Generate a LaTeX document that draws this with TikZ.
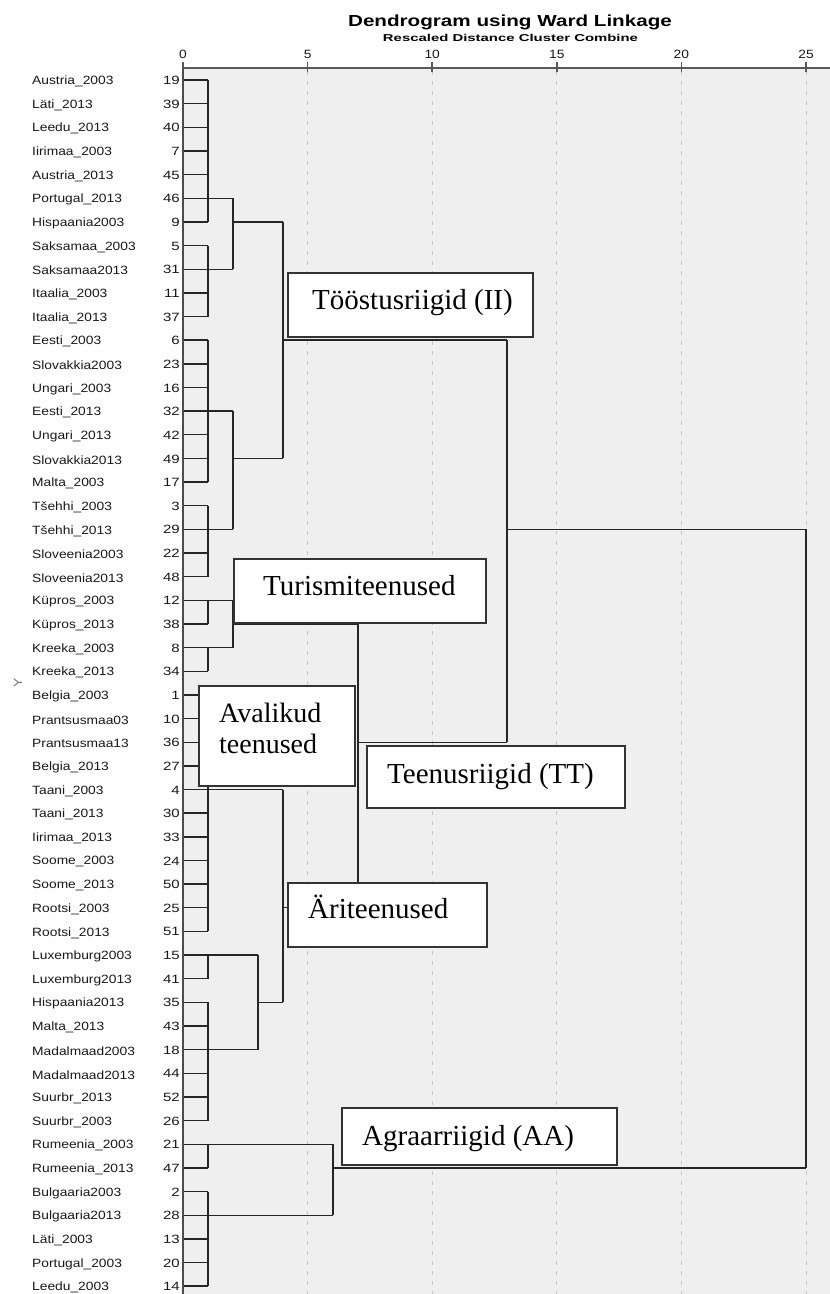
\documentclass[tikz,border=0pt]{standalone}
\usepackage{fontspec}
\setmainfont{Liberation Serif}
\newfontfamily\labfont{Liberation Sans}[FakeStretch=1.15]
\newfontfamily\numfont{Liberation Sans}[FakeStretch=1.25]
\newfontfamily\ttlfont{Liberation Sans}[FakeStretch=1.29]
\newfontfamily\subfont{Liberation Sans}[FakeStretch=1.49]
\definecolor{bggray}{HTML}{EFEFEF}
\definecolor{gridgray}{HTML}{C8C8C8}
\newcommand\clus[5]{\draw[den] (#1,{80+23.65*#2}) -- (#1,{80+23.65*#3}); \draw[den] (#1,{80+23.65*#4}) -- (#5,{80+23.65*#4});}
\begin{document}
\begin{tikzpicture}[x=1pt,y=-1pt,
  den/.style={line width=1.4pt, draw=black!85},
  gridline/.style={draw=gridgray, line width=1pt, dash pattern=on 4pt off 6pt},
  axisline/.style={draw=black!65, line width=2pt},
  box/.style={draw=black!80, line width=1.5pt, fill=white, inner sep=0pt, anchor=north west},
  boxtext/.style={font=\fontsize{29}{33}\selectfont, anchor=base west, inner sep=0pt, text=black},
  lab/.style={font=\labfont\fontsize{12}{14}\selectfont, anchor=west, inner sep=0pt, text=black!90},
  num/.style={font=\numfont\fontsize{12}{14}\selectfont, anchor=east, inner sep=0pt, text=black!90},
  ticklab/.style={font=\labfont\fontsize{12}{14}\selectfont, anchor=base, inner sep=0pt, text=black!90}]
\useasboundingbox (0,0) rectangle (830,1294);
\fill[white] (0,0) rectangle (830,1294);
% plot area
\fill[bggray] (183,68) rectangle (830,1294);
\foreach \gx in {307.6,432.2,556.8,681.4,806} {\draw[gridline] (\gx,71) -- (\gx,1294);}
% title
\node[font=\ttlfont\bfseries\fontsize{16}{18}\selectfont, anchor=base, inner sep=0pt] (title) at (510,26) {Dendrogram using Ward Linkage};
\node[font=\subfont\bfseries\fontsize{10}{12}\selectfont, anchor=base, inner sep=0pt] (subtitle) at (510.5,41) {Rescaled Distance Cluster Combine};
% ticks
\foreach \gx/\tl in {183/0,307.6/5,432.2/10,556.8/15,681.4/20,806/25} {
  \node[ticklab] (tick\tl) at (\gx,58) {\tl};
  \draw[draw=black!65, line width=1.5pt] (\gx,62) -- (\gx,72);
}
% leaves
\foreach \nm/\lnum [count=\i from 0] in {Austria\_2003/19, Läti\_2013/39, Leedu\_2013/40, Iirimaa\_2003/7, Austria\_2013/45, Portugal\_2013/46, Hispaania2003/9, Saksamaa\_2003/5, Saksamaa2013/31, Itaalia\_2003/11, Itaalia\_2013/37, Eesti\_2003/6, Slovakkia2003/23, Ungari\_2003/16, Eesti\_2013/32, Ungari\_2013/42, Slovakkia2013/49, Malta\_2003/17, Tšehhi\_2003/3, Tšehhi\_2013/29, Sloveenia2003/22, Sloveenia2013/48, Küpros\_2003/12, Küpros\_2013/38, Kreeka\_2003/8, Kreeka\_2013/34, Belgia\_2003/1, Prantsusmaa03/10, Prantsusmaa13/36, Belgia\_2013/27, Taani\_2003/4, Taani\_2013/30, Iirimaa\_2013/33, Soome\_2003/24, Soome\_2013/50, Rootsi\_2003/25, Rootsi\_2013/51, Luxemburg2003/15, Luxemburg2013/41, Hispaania2013/35, Malta\_2013/43, Madalmaad2003/18, Madalmaad2013/44, Suurbr\_2013/52, Suurbr\_2003/26, Rumeenia\_2003/21, Rumeenia\_2013/47, Bulgaaria2003/2, Bulgaaria2013/28, Läti\_2003/13, Portugal\_2003/20, Leedu\_2003/14} {
  \node[lab] (L\i) at (32,{80+23.65*\i+1.5}) {\nm};
  \node[num] (N\i) at (180,{80+23.65*\i+0.5}) {\lnum};
  \draw[den] (183,{80+23.65*\i}) -- (208,{80+23.65*\i});
}
% clusters
\clus{208}{0}{6}{5}{233}
\clus{208}{7}{10}{8}{233}
\clus{208}{11}{17}{14}{233}
\clus{208}{18}{21}{19}{233}
\clus{208}{22}{23}{22}{233}
\clus{208}{24}{25}{24}{233}
\clus{208}{26}{36}{30}{283}
\clus{208}{37}{38}{37}{258}
\clus{208}{39}{44}{41}{258}
\clus{208}{45}{46}{45}{333}
\clus{208}{47}{51}{48}{333}
\clus{233}{5}{8}{6}{283}
\clus{233}{14}{19}{16}{283}
\clus{233}{22}{24}{23}{358}
\clus{258}{37}{41}{39}{283}
\clus{283}{6}{16}{11}{507}
\clus{283}{30}{39}{35}{358}
\clus{333}{45}{48}{46}{806}
\clus{358}{23}{35}{28}{507}
\clus{507}{11}{28}{19}{806}
\draw[den] (806,{80+23.65*19}) -- (806,{80+23.65*46});
% axes
\draw[axisline] (183,68) -- (830,68);
\draw[draw=black!70, line width=2.2pt] (183,67) -- (183,1294);
% y label
\node[rotate=90, text=black!55, font=\labfont\fontsize{12}{14}\selectfont, inner sep=0pt] (ylab) at (18,683) {Y};
% annotation boxes
\node[box, minimum width=245pt, minimum height=64pt] (b1) at (287,272) {};
\node[boxtext] (t1) at (312,309) {Tööstusriigid (II)};
\node[box, minimum width=252pt, minimum height=64pt] (b2) at (233,558) {};
\node[boxtext] (t2) at (263,595) {Turismiteenused};
\node[box, minimum width=156pt, minimum height=100pt] (b3) at (198,685) {};
\node[boxtext, font=\fontsize{28}{32}\selectfont] (t3a) at (219,722) {Avalikud};
\node[boxtext, font=\fontsize{28}{32}\selectfont] (t3b) at (219,753) {teenused};
\node[box, minimum width=258pt, minimum height=62pt] (b4) at (366,745) {};
\node[boxtext] (t4) at (387,783) {Teenusriigid (TT)};
\node[box, minimum width=199pt, minimum height=64pt] (b5) at (287,882) {};
\node[boxtext] (t5) at (308,918) {Äriteenused};
\node[box, minimum width=275pt, minimum height=57pt] (b6) at (341,1107) {};
\node[boxtext] (t6) at (362,1145) {Agraarriigid (AA)};
\end{tikzpicture}
\end{document}
